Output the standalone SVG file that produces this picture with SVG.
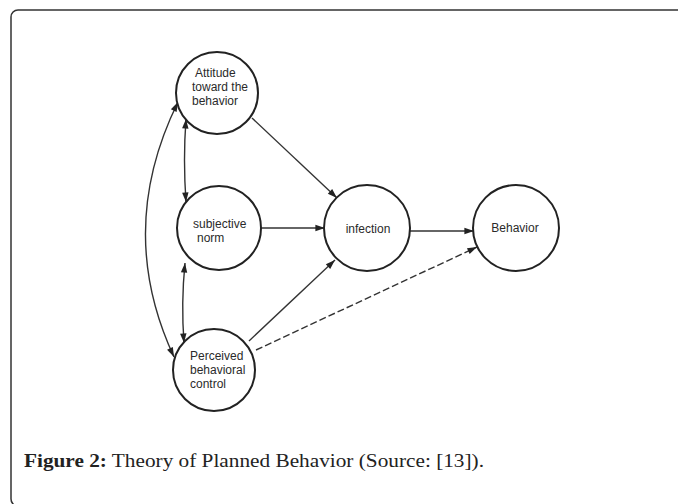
<svg xmlns="http://www.w3.org/2000/svg" width="678" height="504" viewBox="0 0 678 504">
<style>
.node{fill:#fff;stroke:#222;stroke-width:2}
.lbl{font-family:"Liberation Sans",Arial,sans-serif;font-size:12px;fill:#2a2a2a}
.edge{fill:none;stroke:#333;stroke-width:1.4}
.dash{stroke-dasharray:7,3}
.cap{font-family:"Liberation Serif","Times New Roman",serif;font-size:18.5px;fill:#222}
</style>
<defs>
<marker id="ah" viewBox="0 0 12 10" refX="12" refY="5" markerWidth="12" markerHeight="8" markerUnits="userSpaceOnUse" orient="auto-start-reverse">
<path d="M0,1 L12,5 L0,9 Z" fill="#222"/>
</marker>
</defs>
<rect x="11" y="10" width="720" height="496" rx="7" fill="#fff" stroke="#333" stroke-width="1.5"/>
<g id="edges">
<path class="edge" d="M252,118 L337,198" marker-end="url(#ah)"/>
<path class="edge" d="M260,228 L325,228" marker-end="url(#ah)"/>
<path class="edge" d="M249,341 L335,260" marker-end="url(#ah)"/>
<path class="edge dash" d="M256,350 L477,247" marker-end="url(#ah)"/>
<path class="edge" d="M410,231 L474,231" marker-end="url(#ah)"/>
<path class="edge" d="M186,119 Q183,160 186,202" marker-start="url(#ah)" marker-end="url(#ah)"/>
<path class="edge" d="M185,263 Q181,303 184,343" marker-start="url(#ah)" marker-end="url(#ah)"/>
<path class="edge" d="M178,102 Q115,230 174,357" marker-start="url(#ah)" marker-end="url(#ah)"/>
</g>
<g id="attitude">
<circle class="node" cx="217" cy="93" r="41"/>
<text class="lbl" x="195" y="77">Attitude</text>
<text class="lbl" x="192" y="91">toward the</text>
<text class="lbl" x="192" y="105">behavior</text>
</g>
<g id="subjective">
<circle class="node" cx="219" cy="228" r="42"/>
<text class="lbl" x="193" y="228">subjective</text>
<text class="lbl" x="197" y="242">norm</text>
</g>
<g id="perceived">
<circle class="node" cx="214" cy="370" r="41"/>
<text class="lbl" x="190" y="360">Perceived</text>
<text class="lbl" x="190" y="374">behavioral</text>
<text class="lbl" x="190" y="388">control</text>
</g>
<g id="infection">
<circle class="node" cx="367" cy="228" r="43"/>
<text class="lbl" x="368" y="233" text-anchor="middle">infection</text>
</g>
<g id="behavior">
<circle class="node" cx="516" cy="228" r="43"/>
<text class="lbl" x="515" y="232" text-anchor="middle">Behavior</text>
</g>
<text class="cap" x="24" y="467" textLength="460" lengthAdjust="spacingAndGlyphs"><tspan font-weight="bold">Figure 2:</tspan> Theory of Planned Behavior (Source: [13]).</text>
</svg>
